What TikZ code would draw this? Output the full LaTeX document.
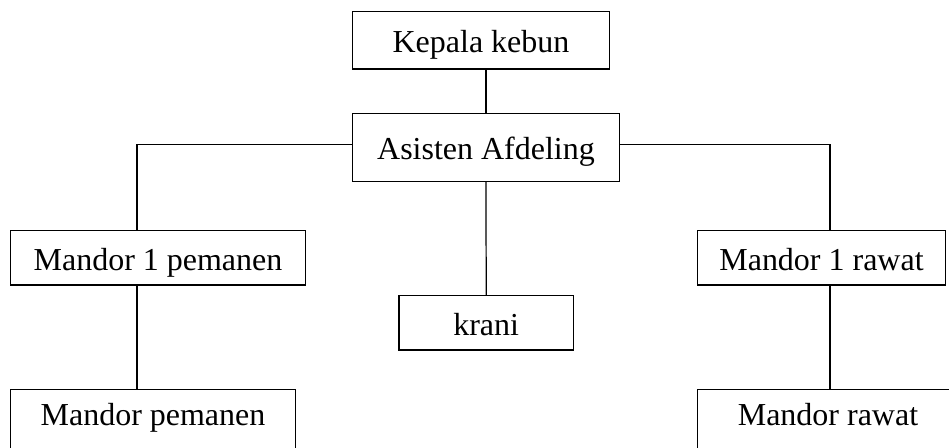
\documentclass[tikz,border=0pt]{standalone}
\usepackage{fontspec}
\setmainfont{Liberation Serif}

\tikzset{box/.style={draw, line width=0.7pt, font=\fontsize{18.2}{22}\selectfont, anchor=north,
    inner ysep=0pt, text height=0.8cm, text depth=0.286cm},
  openbox/.style={box, text height=0.72cm, text depth=0.7cm}}

\begin{document}
\begin{tikzpicture}[line width=0.7pt]
  \useasboundingbox (0,0) rectangle (18.98,-8.96);
  \node[box, minimum width=5.13cm, text height=0.814cm, text depth=0.332cm] (kepala) at (9.62,-0.22) {Kepala kebun};
  \node[box, minimum width=5.33cm, text height=0.932cm, text depth=0.428cm] (asisten) at (9.72,-2.254) {Asisten Afdeling};
  \node[box, minimum width=5.89cm] (m1p) at (3.16,-4.6) {Mandor 1 pemanen};
  \node[box, minimum width=3.486cm] (krani) at (9.724,-5.9) {krani};
  \node[box, minimum width=4.968cm] (m1r) at (16.43,-4.6) {Mandor 1 rawat};
  \node[openbox, minimum width=5.69cm] (mp) at (3.06,-7.78) {Mandor pemanen};
  \node[openbox, minimum width=5.23cm] (mr) at (16.56,-7.78) {Mandor rawat};
  \draw (asisten.north) -- (asisten.north |- kepala.south);
  \draw ([yshift=0.5mm]asisten.west) -| ([xshift=-4.2mm]m1p.north);
  \draw ([yshift=0.5mm]asisten.east) -| ([xshift=1.7mm]m1r.north);
  \draw (asisten.south) -- (krani.north);
  \draw ([xshift=-4.2mm]m1p.south) -- ([xshift=-4.2mm]m1p.south |- mp.north);
  \draw ([xshift=1.7mm]m1r.south) -- ([xshift=1.7mm]m1r.south |- mr.north);
\end{tikzpicture}
\end{document}
